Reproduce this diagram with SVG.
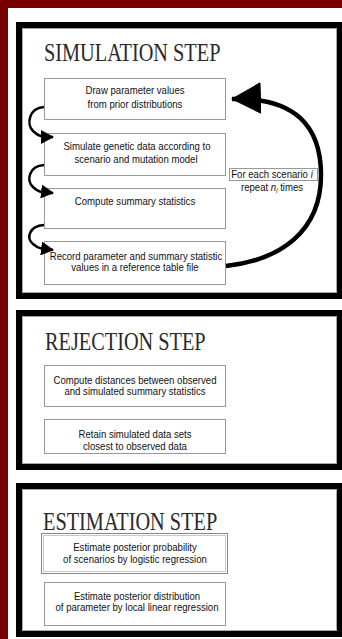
<svg xmlns="http://www.w3.org/2000/svg" width="342" height="639" viewBox="0 0 342 639">
<defs>
<style>
.frame{fill:#fff;stroke:#000;stroke-width:6}
.inner{fill:none;stroke:#a8a8a8;stroke-width:1}
.box{fill:#fff;stroke:#999;stroke-width:1}
.title{font-family:"Liberation Serif","Times New Roman",serif;font-size:20.3px;fill:#2a2a2a}
.t{font-family:"Liberation Sans",Arial,sans-serif;font-size:9.6px;fill:#111;text-anchor:middle}
.edge{fill:none;stroke:#000}
</style>
<marker id="ah" markerUnits="userSpaceOnUse" markerWidth="14" markerHeight="14" refX="12" refY="7" orient="auto" viewBox="0 0 14 14">
<path d="M0,0 L13,7 L0,14 z" fill="#000"/>
</marker>
<marker id="big" markerUnits="userSpaceOnUse" markerWidth="32" markerHeight="32" refX="29" refY="16" orient="auto" viewBox="0 0 32 32">
<path d="M0,0 L30,16 L0,32 z" fill="#000"/>
</marker>
</defs>
<rect x="0" y="0" width="342" height="639" fill="#fff"/>
<rect x="0" y="0" width="8" height="639" fill="#780000"/>
<rect x="0" y="0" width="342" height="8" fill="#780000"/>

<g id="simulation-step">
<rect class="frame" x="19" y="25" width="321" height="271"/>
<rect class="inner" x="22.5" y="28.5" width="314" height="264"/>
<text class="title" transform="translate(44,61) scale(1,1.25)">SIMULATION STEP</text>
</g>
<g id="draw">
<rect class="box" x="44.5" y="78.5" width="181" height="41"/>
<text class="t" transform="translate(135,94) scale(1,1.15)">Draw parameter values</text>
<text class="t" transform="translate(135,108) scale(1,1.15)">from prior distributions</text>
</g>
<g id="simulate">
<rect class="box" x="44.5" y="133.5" width="181" height="42"/>
<text class="t" transform="translate(137,150) scale(1,1.15)">Simulate genetic data according to</text>
<text class="t" transform="translate(136,163) scale(1,1.15)">scenario and mutation model</text>
</g>
<g id="compute">
<rect class="box" x="44.5" y="188.5" width="181" height="40"/>
<text class="t" transform="translate(135,205) scale(1,1.15)">Compute summary statistics</text>
</g>
<g id="record">
<rect class="box" x="44.5" y="241.5" width="181" height="43"/>
<text class="t" transform="translate(136,260) scale(1,1.15)">Record parameter and summary statistic</text>
<text class="t" transform="translate(135,271) scale(1,1.15)">values in a reference table file</text>
</g>

<g id="rejection-step">
<rect class="frame" x="19" y="313" width="321" height="154"/>
<rect class="inner" x="22.5" y="316.5" width="314" height="147"/>
<text class="title" transform="translate(45,350) scale(1,1.25)">REJECTION STEP</text>
</g>
<g id="distances">
<rect class="box" x="44.5" y="365.5" width="181" height="41"/>
<text class="t" transform="translate(135,384) scale(1,1.15)">Compute distances between observed</text>
<text class="t" transform="translate(135,395) scale(1,1.15)">and simulated summary statistics</text>
</g>
<g id="retain">
<rect class="box" x="44.5" y="419.5" width="181" height="34"/>
<text class="t" transform="translate(135,438) scale(1,1.15)">Retain simulated data sets</text>
<text class="t" transform="translate(135,450) scale(1,1.15)">closest to observed data</text>
</g>

<g id="estimation-step">
<rect class="frame" x="19" y="486" width="321" height="148"/>
<rect class="inner" x="22.5" y="489.5" width="314" height="141"/>
<text class="title" transform="translate(43,530) scale(1,1.25)">ESTIMATION STEP</text>
</g>
<g id="posterior-probability">
<rect x="41.5" y="533.5" width="186" height="40" fill="#fff" stroke="#888" stroke-width="1"/>
<rect x="43.5" y="535.5" width="182" height="36" fill="none" stroke="#c8c8c8" stroke-width="1"/>
<text class="t" transform="translate(135,551) scale(1,1.15)">Estimate posterior probability</text>
<text class="t" transform="translate(135,563) scale(1,1.15)">of scenarios by logistic regression</text>
</g>
<g id="posterior-distribution">
<rect class="box" x="44.5" y="582.5" width="181" height="43"/>
<text class="t" transform="translate(137,600) scale(1,1.15)">Estimate posterior distribution</text>
<text class="t" transform="translate(137,611) scale(1,1.15)">of parameter by local linear regression</text>
</g>

<g id="connectors">
<path class="edge" stroke-width="2.5" marker-end="url(#ah)" d="M44 107 C29 108 26 124 33 131 S45 137 53 137"/>
<path class="edge" stroke-width="2.5" marker-end="url(#ah)" d="M44 165 C29 166 26 180 33 187 S45 192 53 193"/>
<path class="edge" stroke-width="2.5" marker-end="url(#ah)" d="M44 225 C29 226 26 238 33 244 S45 249 53 250"/>
<g id="loop-label">
<rect x="229.5" y="168.5" width="88" height="12" fill="#fff" stroke="#999" stroke-width="1"/>
<text class="t" transform="translate(272,178) scale(1,1.15)">For each scenario <tspan font-style="italic">i</tspan></text>
<text class="t" transform="translate(272,191) scale(1,1.15)">repeat <tspan font-style="italic">n</tspan><tspan font-style="italic" font-size="6px" dy="2">i</tspan><tspan dy="-2"> times</tspan></text>
</g>
<path class="edge" stroke-width="4.5" marker-end="url(#big)" d="M226 266 C280 260 321 232 321 175 C321 126 295 97 232 99"/>
</g>
</svg>
